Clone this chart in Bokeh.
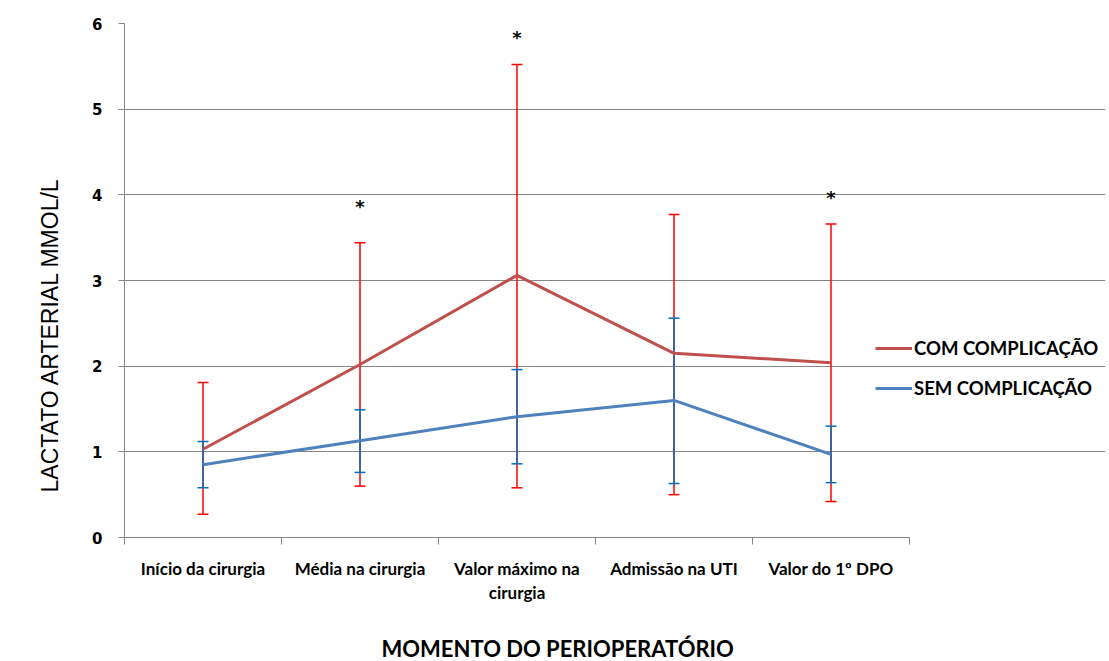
from bokeh.plotting import figure
from bokeh.models import (ColumnDataSource, FixedTicker, Whisker, TeeHead, Legend,
                          LegendItem, Title, Range1d)
from bokeh.core.properties import value
from bokeh.embed import file_html
from bokeh.resources import INLINE

categories = ["Início da cirurgia", "Média na cirurgia", "Valor máximo na\ncirurgia",
              "Admissão na UTI", "Valor do 1º DPO"]
com_mean = [1.03, 2.02, 3.06, 2.15, 2.04]
com_upper = [1.81, 3.44, 5.52, 3.77, 3.66]
com_lower = [0.27, 0.60, 0.58, 0.50, 0.42]
sem_mean = [0.85, 1.13, 1.41, 1.60, 0.97]
sem_upper = [1.12, 1.49, 1.96, 2.56, 1.30]
sem_lower = [0.58, 0.76, 0.86, 0.63, 0.64]
star_idx = [1, 2, 4]
star_y = [3.86, 5.84, 3.97]
y_ticks = [0, 1, 2, 3, 4, 5, 6]

n = len(categories)
xs = [i + 0.5 for i in range(n)]

# layout (pixels)
W, H = 1107, 661
LEFT, TOP, RIGHT, BOTTOM = 124, 23, 2, 123
frame_w = W - LEFT - RIGHT
plot_w = 785  # width of the category area inside the frame
x_max = n * frame_w / plot_w

p = figure(width=W, height=H, output_backend="svg", toolbar_location=None,
           x_range=Range1d(0, x_max), y_range=Range1d(0, 6),
           min_border_left=LEFT, min_border_right=RIGHT, min_border_top=TOP,
           min_border_bottom=BOTTOM)
p.outline_line_color = None
p.background_fill_color = "white"
p.border_fill_color = "white"

GRID = "#868686"
# y axis
p.yaxis.ticker = FixedTicker(ticks=y_ticks)
p.yaxis.axis_line_color = GRID
p.yaxis.major_tick_line_color = GRID
p.yaxis.major_tick_out = 6
p.yaxis.major_tick_in = 0
p.yaxis.minor_tick_line_color = None
p.yaxis.major_label_text_font = "DejaVu Sans"
p.yaxis.major_label_text_font_style = "bold"
p.yaxis.major_label_text_font_size = "15px"
p.yaxis.major_label_text_color = "black"
p.yaxis.major_label_standoff = 16
p.ygrid.grid_line_color = GRID
p.ygrid.ticker = FixedTicker(ticks=y_ticks)
p.ygrid.bounds = (0, n)
p.xgrid.grid_line_color = None

# x axis
p.xaxis.bounds = (0, n)
p.xaxis.ticker = FixedTicker(ticks=xs, minor_ticks=list(range(n + 1)))
p.xaxis.major_label_overrides = {x: c for x, c in zip(xs, categories)}
p.xaxis.axis_line_color = GRID
p.xaxis.major_tick_line_color = None
p.xaxis.major_tick_out = 0
p.xaxis.major_tick_in = 0
p.xaxis.minor_tick_line_color = GRID
p.xaxis.minor_tick_out = 7
p.xaxis.minor_tick_in = 0
p.xaxis.major_label_text_font = "Lato"
p.xaxis.major_label_text_font_style = "bold"
p.xaxis.major_label_text_font_size = "17px"
p.xaxis.major_label_text_line_height = 1.15
p.xaxis.major_label_text_color = "black"
p.xaxis.major_label_standoff = 13
# spacer below the category labels so the axis title sits lower
p.xaxis.axis_label = "\u00a0"
p.xaxis.axis_label_text_font_size = "16px"
p.xaxis.axis_label_standoff = 7
p.xaxis.axis_label_text_alpha = 0

src = ColumnDataSource(dict(x=xs, com=com_mean, cu=com_upper, cl=com_lower,
                            sem=sem_mean, su=sem_upper, sl=sem_lower))

red_err = Whisker(base="x", upper="cu", lower="cl", source=src,
                  line_color="#FF0000", line_width=1.5,
                  upper_head=TeeHead(size=11, line_color="#FF0000", line_width=1.5),
                  lower_head=TeeHead(size=11, line_color="#FF0000", line_width=1.5))
blue_err = Whisker(base="x", upper="su", lower="sl", source=src,
                   line_color="#0070C0", line_width=1.5,
                   upper_head=TeeHead(size=11, line_color="#0070C0", line_width=1.5),
                   lower_head=TeeHead(size=11, line_color="#0070C0", line_width=1.5))
p.add_layout(red_err)
p.add_layout(blue_err)

r_com = p.line("x", "com", source=src, line_color="#C0504D", line_width=3)
r_sem = p.line("x", "sem", source=src, line_color="#4F81BD", line_width=3)

p.text(x=[xs[i] for i in star_idx], y=star_y, text=["*"] * len(star_y),
       text_font=value("DejaVu Sans"), text_font_style="bold", text_font_size="18px",
       text_align="center", text_baseline="middle", text_color="black")

legend = Legend(items=[LegendItem(label="COM COMPLICAÇÃO", renderers=[r_com]),
                       LegendItem(label="SEM COMPLICAÇÃO", renderers=[r_sem])],
                location=(751, 138), orientation="vertical",
                padding=0, margin=0, spacing=18, glyph_width=37, glyph_height=20,
                label_height=20, label_standoff=2,
                label_text_font="Lato", label_text_font_style="bold",
                label_text_font_size="18.5px", label_text_color="black",
                border_line_color=None, background_fill_alpha=0)
p.add_layout(legend)

ytitle = Title(text="LACTATO ARTERIAL  MMOL/L", align="left", offset=45,
               text_font="Liberation Sans", text_font_style="normal",
               text_font_size="23px", text_color="black", standoff=53)
p.add_layout(ytitle, "left")

xtitle = Title(text="MOMENTO DO PERIOPERATÓRIO", align="left", offset=257,
               text_font="Lato", text_font_style="bold",
               text_font_size="22px", text_color="black", standoff=0,
               vertical_align="bottom")
p.add_layout(xtitle, "below")

open("out.html", "w").write(file_html(p, INLINE))
